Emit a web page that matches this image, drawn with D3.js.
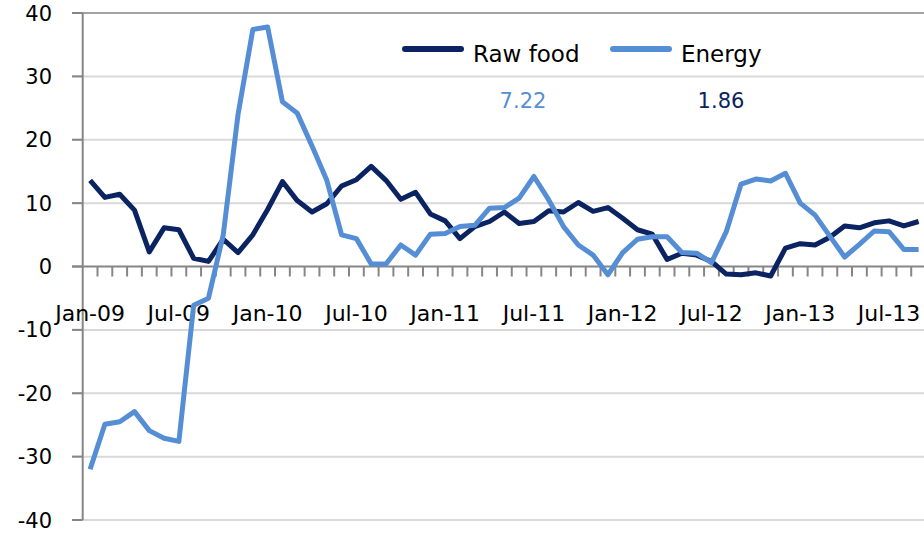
<!DOCTYPE html>
<html>
<head>
<meta charset="utf-8">
<script src="https://cdn.jsdelivr.net/npm/d3@7/dist/d3.min.js"></script>
<style>
  body { margin: 0; background: #fff; }
  text { font-family: "DejaVu Sans", sans-serif; fill: #000; }
</style>
</head>
<body>
<div id="chart"></div>
<script>
// monthly categories Jan-09 .. Sep-13
var months = d3.timeMonth.range(new Date(2009, 0, 1), new Date(2013, 9, 1));
var tickLabels = ["Jan-09", "Jul-09", "Jan-10", "Jul-10", "Jan-11", "Jul-11", "Jan-12", "Jul-12", "Jan-13", "Jul-13"];
var yTicks = [-40, -30, -20, -10, 0, 10, 20, 30, 40];

var rawFood = [13.6, 10.9, 11.4, 8.9, 2.3, 6.1, 5.8, 1.3, 0.8, 4.3, 2.2, 5.0,
               9.0, 13.4, 10.4, 8.6, 9.9, 12.7, 13.7, 15.8, 13.6, 10.6, 11.7, 8.3,
               7.2, 4.4, 6.3, 7.1, 8.6, 6.8, 7.1, 8.8, 8.6, 10.1, 8.7, 9.3,
               7.6, 5.8, 5.1, 1.1, 2.1, 1.8, 0.8, -1.2, -1.3, -1.0, -1.5, 2.9,
               3.6, 3.4, 4.6, 6.4, 6.1, 6.9, 7.2, 6.4, 7.1];
var energy = [-32.0, -24.9, -24.5, -22.9, -25.9, -27.1, -27.6, -6.1, -5.0, 5.0, 24.0, 37.4,
              37.8, 26.0, 24.2, 19.0, 13.6, 5.0, 4.4, 0.4, 0.4, 3.4, 1.8, 5.1,
              5.2, 6.3, 6.5, 9.2, 9.3, 10.8, 14.2, 10.5, 6.3, 3.4, 1.8, -1.3,
              2.2, 4.3, 4.7, 4.7, 2.2, 2.1, 0.6, 5.5, 13.0, 13.8, 13.5, 14.7,
              10.0, 8.1, 4.8, 1.5, 3.5, 5.6, 5.5, 2.7, 2.7];

var series = [
    {name: "Raw food", values: rawFood, color: "#0b2461", note: "1.86"},
    {name: "Energy", values: energy, color: "#558ed5", note: "7.22"}
];

var width = 924, height = 533;
var fmt = d3.timeFormat("%b-%y");

var svg = d3.select("#chart").append("svg")
    .attr("width", width)
    .attr("height", height);

var x = d3.scaleBand()
    .domain(months.map(fmt))
    .range([82.7, 926])
    .padding(0);

var y = d3.scaleLinear()
    .domain([-40, 40])
    .range([520, 13]);

var bw = x.bandwidth();
var cx = function(i) { return x(fmt(months[i])) + bw / 2; };

// gridlines
svg.append("g").selectAll("line")
    .data(yTicks.filter(function(d) { return d != 0; }))
    .enter().append("line")
    .attr("x1", 72)
    .attr("x2", width)
    .attr("y1", function(d) { return y(d); })
    .attr("y2", function(d) { return y(d); })
    .attr("stroke", function(d) { return d == 40 ? "#a3a3a3" : "#d9d9d9"; })
    .attr("stroke-width", 2);

// y tick marks on left of axis
svg.append("g").selectAll("line")
    .data(yTicks)
    .enter().append("line")
    .attr("x1", 72)
    .attr("x2", 82.7)
    .attr("y1", function(d) { return y(d); })
    .attr("y2", function(d) { return y(d); })
    .attr("stroke", "#868686")
    .attr("stroke-width", 2);

// y labels
svg.append("g").selectAll("text")
    .data(yTicks)
    .enter().append("text")
    .attr("x", 52)
    .attr("y", function(d) { return y(d); })
    .attr("dy", "0.36em")
    .attr("text-anchor", "end")
    .style("font-size", "21px")
    .text(function(d) { return d; });

// vertical axis line
svg.append("line")
    .attr("x1", 82.7).attr("x2", 82.7)
    .attr("y1", y(40)).attr("y2", y(-40))
    .attr("stroke", "#868686")
    .attr("stroke-width", 2);

// zero axis + month ticks
svg.append("line")
    .attr("x1", 72).attr("x2", width)
    .attr("y1", y(0)).attr("y2", y(0))
    .attr("stroke", "#868686")
    .attr("stroke-width", 2);

svg.append("g").selectAll("line")
    .data(months.slice(1))
    .enter().append("line")
    .attr("x1", function(d) { return x(fmt(d)); })
    .attr("x2", function(d) { return x(fmt(d)); })
    .attr("y1", y(0))
    .attr("y2", y(0) + 10)
    .attr("stroke", "#868686")
    .attr("stroke-width", 2);

// x labels
svg.append("g").selectAll("text")
    .data(tickLabels)
    .enter().append("text")
    .attr("x", function(d) { return x(d) + bw / 2; })
    .attr("y", 321)
    .attr("text-anchor", "middle")
    .style("font-size", "22px")
    .text(function(d) { return d; });

// lines
var line = d3.line()
    .x(function(d, i) { return cx(i); })
    .y(function(d) { return y(d); });

svg.append("g").selectAll("path")
    .data(series)
    .enter().append("path")
    .attr("d", function(d) { return line(d.values); })
    .attr("fill", "none")
    .attr("stroke", function(d) { return d.color; })
    .attr("stroke-width", 5)
    .attr("stroke-linejoin", "round");

// legend
var legendX = [405, 613];
var legend = svg.append("g").selectAll("g")
    .data(series)
    .enter().append("g")
    .attr("transform", function(d, i) { return "translate(" + legendX[i] + ",49)"; });

legend.append("line")
    .attr("x1", 0).attr("x2", 56)
    .attr("stroke", function(d) { return d.color; })
    .attr("stroke-width", 6)
    .attr("stroke-linecap", "round");

legend.append("text")
    .attr("x", 68)
    .attr("y", 13)
    .style("font-size", "23px")
    .text(function(d) { return d.name; });

// value notes under legend
var noteX = [721, 523];
svg.append("g").selectAll("text")
    .data(series)
    .enter().append("text")
    .attr("x", function(d, i) { return noteX[i]; })
    .attr("y", 108)
    .attr("text-anchor", "middle")
    .style("font-size", "21px")
    .style("fill", function(d) { return d.color; })
    .text(function(d) { return d.note; });
</script>
</body>
</html>
